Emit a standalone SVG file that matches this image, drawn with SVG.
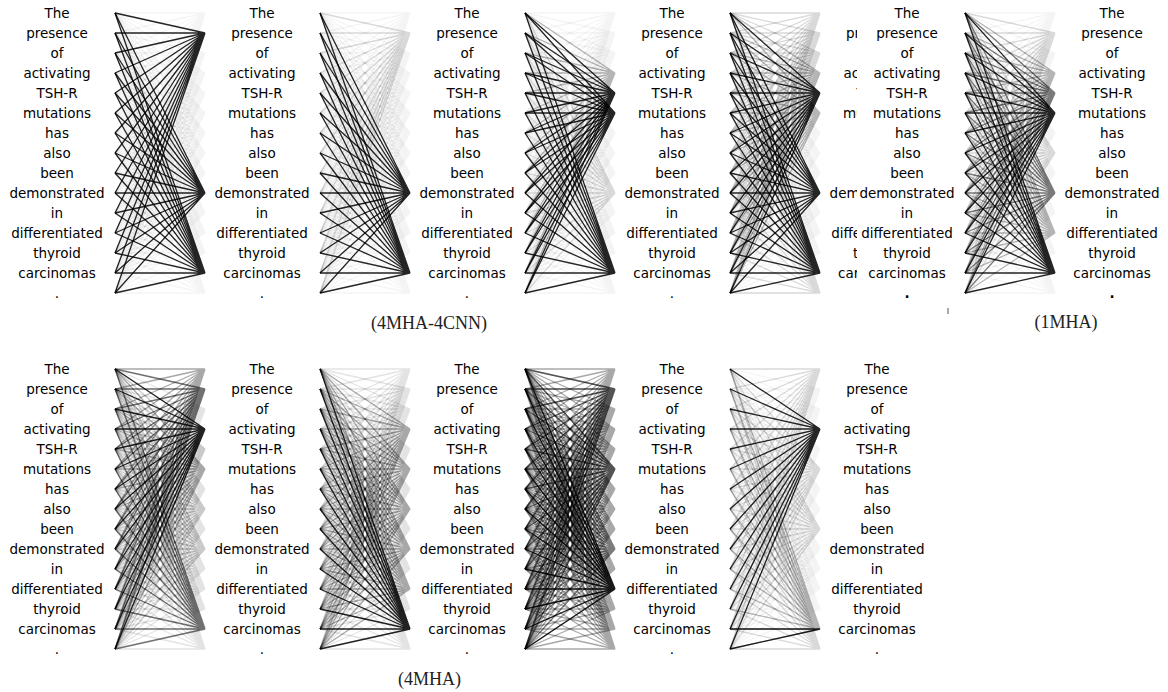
<svg xmlns="http://www.w3.org/2000/svg" xmlns:xlink="http://www.w3.org/1999/xlink" width="1168" height="692" viewBox="0 0 1168 692">
<style>
.w{font-family:"DejaVu Sans",sans-serif;font-size:13.5px;text-anchor:middle;fill:#000}
.wp{font-family:"DejaVu Sans",sans-serif;font-size:13.5px;text-anchor:start;fill:#000}
.cap{font-family:"Liberation Serif","Times New Roman",serif;font-size:18px;text-anchor:middle;fill:#222}
#connectors{stroke:#000;stroke-width:1.3;fill:none}
path{vector-effect:non-scaling-stroke;fill:none}
.k1{stroke-opacity:.85}
.k2{stroke-opacity:.5}
.k3{stroke-opacity:.26}
.k4{stroke-opacity:.11}
.k5{stroke-opacity:.045}
.k6{stroke-opacity:.34}
</style>
<defs>
<path id="f" vector-effect="non-scaling-stroke" d="M0 0L1 0M0 1L1 0M0 2L1 0M0 3L1 0M0 4L1 0M0 5L1 0M0 6L1 0M0 7L1 0M0 8L1 0M0 9L1 0M0 10L1 0M0 11L1 0M0 12L1 0M0 13L1 0M0 14L1 0"/>
<g id="m">
<use href="#f"/>
<use href="#f" transform="matrix(1 1 0 1 0 0)"/>
<use href="#f" transform="matrix(1 2 0 1 0 0)"/>
<use href="#f" transform="matrix(1 3 0 1 0 0)"/>
<use href="#f" transform="matrix(1 4 0 1 0 0)"/>
<use href="#f" transform="matrix(1 5 0 1 0 0)"/>
<use href="#f" transform="matrix(1 6 0 1 0 0)"/>
<use href="#f" transform="matrix(1 7 0 1 0 0)"/>
<use href="#f" transform="matrix(1 8 0 1 0 0)"/>
<use href="#f" transform="matrix(1 9 0 1 0 0)"/>
<use href="#f" transform="matrix(1 10 0 1 0 0)"/>
<use href="#f" transform="matrix(1 11 0 1 0 0)"/>
<use href="#f" transform="matrix(1 12 0 1 0 0)"/>
<use href="#f" transform="matrix(1 13 0 1 0 0)"/>
<use href="#f" transform="matrix(1 14 0 1 0 0)"/>
</g>
<clipPath id="cl"><rect x="800" y="0" width="57" height="320"/></clipPath>
</defs>
<rect width="1168" height="692" fill="#fff"/>

<g id="connectors">
<!-- top row: 4MHA-4CNN -->
<g id="top-p1" transform="translate(115 13) scale(90 20)">
<use href="#m" class="k5"/>
<use href="#f" class="k1" transform="matrix(1 1 0 1 0 0)"/>
<use href="#f" class="k1" transform="matrix(1 9 0 1 0 0)"/>
<use href="#f" class="k1" transform="matrix(1 13 0 1 0 0)"/>
</g>
<g id="top-p2" transform="translate(320 13) scale(90 20)">
<use href="#m" class="k5"/>
<use href="#f" class="k4" transform="matrix(1 1 0 1 0 0)"/>
<use href="#f" class="k1" transform="matrix(1 9 0 1 0 0)"/>
<use href="#f" class="k1" transform="matrix(1 13 0 1 0 0)"/>
</g>
<g id="top-p3" transform="translate(525 13) scale(90 20)">
<use href="#m" class="k5"/>
<use href="#f" class="k3" transform="matrix(1 3 0 1 0 0)"/>
<use href="#f" class="k1" transform="matrix(1 4 0 1 0 0)"/>
<use href="#f" class="k1" transform="matrix(1 5 0 1 0 0)"/>
<use href="#f" class="k4" transform="matrix(1 9 0 1 0 0)"/>
<use href="#f" class="k1" transform="matrix(1 13 0 1 0 0)"/>
</g>
<g id="top-p4" transform="translate(730 13) scale(90 20)">
<use href="#m" class="k5"/>
<use href="#f" class="k4"/>
<use href="#f" class="k4" transform="matrix(1 1 0 1 0 0)"/>
<use href="#f" class="k4" transform="matrix(1 2 0 1 0 0)"/>
<use href="#f" class="k3" transform="matrix(1 3 0 1 0 0)"/>
<use href="#f" class="k1" transform="matrix(1 4 0 1 0 0)"/>
<use href="#f" class="k3" transform="matrix(1 5 0 1 0 0)"/>
<use href="#f" class="k1" transform="matrix(1 9 0 1 0 0)"/>
<use href="#f" class="k1" transform="matrix(1 13 0 1 0 0)"/>
<use href="#f" class="k4" transform="matrix(1 14 0 1 0 0)"/>
</g>
<!-- top row: 1MHA -->
<g id="top-p5" transform="translate(965 13) scale(90 20)">
<use href="#m" class="k5"/>
<use href="#f" class="k4" transform="matrix(1 1 0 1 0 0)"/>
<use href="#f" class="k3" transform="matrix(1 3 0 1 0 0)"/>
<use href="#f" class="k2" transform="matrix(1 4 0 1 0 0)"/>
<use href="#f" class="k1" transform="matrix(1 5 0 1 0 0)"/>
<use href="#f" class="k4" transform="matrix(1 7 0 1 0 0)"/>
<use href="#f" class="k2" transform="matrix(1 9 0 1 0 0)"/>
<use href="#f" class="k3" transform="matrix(1 11 0 1 0 0)"/>
<use href="#f" class="k1" transform="matrix(1 13 0 1 0 0)"/>
</g>
<!-- bottom row: 4MHA -->
<g id="bot-p1" transform="translate(115 369) scale(90 20)">
<use href="#m" class="k4"/>
<use href="#f" class="k3"/>
<use href="#f" class="k2" transform="matrix(1 1 0 1 0 0)"/>
<use href="#f" class="k1" transform="matrix(1 3 0 1 0 0)"/>
<use href="#f" class="k4" transform="matrix(1 4 0 1 0 0)"/>
<use href="#f" class="k3" transform="matrix(1 5 0 1 0 0)"/>
<use href="#f" class="k4" transform="matrix(1 7 0 1 0 0)"/>
<use href="#f" class="k4" transform="matrix(1 9 0 1 0 0)"/>
<use href="#f" class="k2" transform="matrix(1 13 0 1 0 0)"/>
</g>
<g id="bot-p2" transform="translate(320 369) scale(90 20)">
<use href="#m" class="k4"/>
<use href="#f" class="k3" transform="matrix(1 3 0 1 0 0)"/>
<use href="#f" class="k3" transform="matrix(1 5 0 1 0 0)"/>
<use href="#f" class="k3" transform="matrix(1 7 0 1 0 0)"/>
<use href="#f" class="k3" transform="matrix(1 9 0 1 0 0)"/>
<use href="#f" class="k3" transform="matrix(1 11 0 1 0 0)"/>
<use href="#f" class="k1" transform="matrix(1 13 0 1 0 0)"/>
</g>
<g id="bot-p3" transform="translate(525 369) scale(90 20)">
<use href="#m" class="k6"/>
<use href="#f" class="k2" transform="matrix(1 1 0 1 0 0)"/>
<use href="#f" class="k2" transform="matrix(1 5 0 1 0 0)"/>
<use href="#f" class="k3" transform="matrix(1 9 0 1 0 0)"/>
<use href="#f" class="k1" transform="matrix(1 11 0 1 0 0)"/>
</g>
<g id="bot-p4" transform="translate(730 369) scale(90 20)">
<use href="#m" class="k5"/>
<use href="#f" class="k4"/>
<use href="#f" class="k1" transform="matrix(1 3 0 1 0 0)"/>
<use href="#f" class="k4" transform="matrix(1 5 0 1 0 0)"/>
<use href="#f" class="k4" transform="matrix(1 8 0 1 0 0)"/>
<use href="#f" class="k3" transform="matrix(1 13 0 1 0 0)"/>
<path class="k1" d="M0 13L1 13M0 14L1 13"/>
<use href="#f" class="k4" transform="matrix(1 14 0 1 0 0)"/>
</g>
</g>

<!-- word columns, top row -->
<g id="top-col1" class="w" transform="translate(57 13)">
<text y="4.5">The</text><text y="24.5">presence</text><text y="44.5">of</text><text y="64.5">activating</text><text y="84.5">TSH-R</text><text y="104.5">mutations</text><text y="124.5">has</text><text y="144.5">also</text><text y="164.5">been</text><text y="184.5">demonstrated</text><text y="204.5">in</text><text y="224.5">differentiated</text><text y="244.5">thyroid</text><text y="264.5">carcinomas</text><text y="284.5">.</text>
</g>
<g id="top-col2" class="w" transform="translate(262 13)">
<text y="4.5">The</text><text y="24.5">presence</text><text y="44.5">of</text><text y="64.5">activating</text><text y="84.5">TSH-R</text><text y="104.5">mutations</text><text y="124.5">has</text><text y="144.5">also</text><text y="164.5">been</text><text y="184.5">demonstrated</text><text y="204.5">in</text><text y="224.5">differentiated</text><text y="244.5">thyroid</text><text y="264.5">carcinomas</text><text y="284.5">.</text>
</g>
<g id="top-col3" class="w" transform="translate(467 13)">
<text y="4.5">The</text><text y="24.5">presence</text><text y="44.5">of</text><text y="64.5">activating</text><text y="84.5">TSH-R</text><text y="104.5">mutations</text><text y="124.5">has</text><text y="144.5">also</text><text y="164.5">been</text><text y="184.5">demonstrated</text><text y="204.5">in</text><text y="224.5">differentiated</text><text y="244.5">thyroid</text><text y="264.5">carcinomas</text><text y="284.5">.</text>
</g>
<g id="top-col4" class="w" transform="translate(672 13)">
<text y="4.5">The</text><text y="24.5">presence</text><text y="44.5">of</text><text y="64.5">activating</text><text y="84.5">TSH-R</text><text y="104.5">mutations</text><text y="124.5">has</text><text y="144.5">also</text><text y="164.5">been</text><text y="184.5">demonstrated</text><text y="204.5">in</text><text y="224.5">differentiated</text><text y="244.5">thyroid</text><text y="264.5">carcinomas</text><text y="284.5">.</text>
</g>
<!-- partially hidden column (clipped by the 1MHA picture) -->
<g id="top-col5" class="wp" clip-path="url(#cl)">
<text x="846" y="37.5">pr</text><text x="843.4" y="77.5">ac</text><text x="856.4" y="97.5">T</text><text x="842.9" y="117.5">mu</text><text x="829.6" y="197.5">dem</text><text x="831.2" y="237.5">diffe</text><text x="853" y="257.5">t</text><text x="838.1" y="277.5">car</text>
</g>
<g id="top-col6" class="w" transform="translate(907 13)">
<text y="4.5">The</text><text y="24.5">presence</text><text y="44.5">of</text><text y="64.5">activating</text><text y="84.5">TSH-R</text><text y="104.5">mutations</text><text y="124.5">has</text><text y="144.5">also</text><text y="164.5">been</text><text y="184.5">demonstrated</text><text y="204.5">in</text><text y="224.5">differentiated</text><text y="244.5">thyroid</text><text y="264.5">carcinomas</text><text y="284.5" font-weight="bold">.</text>
</g>
<g id="top-col7" class="w" transform="translate(1112 13)">
<text y="4.5">The</text><text y="24.5">presence</text><text y="44.5">of</text><text y="64.5">activating</text><text y="84.5">TSH-R</text><text y="104.5">mutations</text><text y="124.5">has</text><text y="144.5">also</text><text y="164.5">been</text><text y="184.5">demonstrated</text><text y="204.5">in</text><text y="224.5">differentiated</text><text y="244.5">thyroid</text><text y="264.5">carcinomas</text><text y="284.5" font-weight="bold">.</text>
</g>

<!-- word columns, bottom row -->
<g id="bot-col1" class="w" transform="translate(57 369)">
<text y="4.5">The</text><text y="24.5">presence</text><text y="44.5">of</text><text y="64.5">activating</text><text y="84.5">TSH-R</text><text y="104.5">mutations</text><text y="124.5">has</text><text y="144.5">also</text><text y="164.5">been</text><text y="184.5">demonstrated</text><text y="204.5">in</text><text y="224.5">differentiated</text><text y="244.5">thyroid</text><text y="264.5">carcinomas</text><text y="284.5">.</text>
</g>
<g id="bot-col2" class="w" transform="translate(262 369)">
<text y="4.5">The</text><text y="24.5">presence</text><text y="44.5">of</text><text y="64.5">activating</text><text y="84.5">TSH-R</text><text y="104.5">mutations</text><text y="124.5">has</text><text y="144.5">also</text><text y="164.5">been</text><text y="184.5">demonstrated</text><text y="204.5">in</text><text y="224.5">differentiated</text><text y="244.5">thyroid</text><text y="264.5">carcinomas</text><text y="284.5">.</text>
</g>
<g id="bot-col3" class="w" transform="translate(467 369)">
<text y="4.5">The</text><text y="24.5">presence</text><text y="44.5">of</text><text y="64.5">activating</text><text y="84.5">TSH-R</text><text y="104.5">mutations</text><text y="124.5">has</text><text y="144.5">also</text><text y="164.5">been</text><text y="184.5">demonstrated</text><text y="204.5">in</text><text y="224.5">differentiated</text><text y="244.5">thyroid</text><text y="264.5">carcinomas</text><text y="284.5">.</text>
</g>
<g id="bot-col4" class="w" transform="translate(672 369)">
<text y="4.5">The</text><text y="24.5">presence</text><text y="44.5">of</text><text y="64.5">activating</text><text y="84.5">TSH-R</text><text y="104.5">mutations</text><text y="124.5">has</text><text y="144.5">also</text><text y="164.5">been</text><text y="184.5">demonstrated</text><text y="204.5">in</text><text y="224.5">differentiated</text><text y="244.5">thyroid</text><text y="264.5">carcinomas</text><text y="284.5">.</text>
</g>
<g id="bot-col5" class="w" transform="translate(877 369)">
<text y="4.5">The</text><text y="24.5">presence</text><text y="44.5">of</text><text y="64.5">activating</text><text y="84.5">TSH-R</text><text y="104.5">mutations</text><text y="124.5">has</text><text y="144.5">also</text><text y="164.5">been</text><text y="184.5">demonstrated</text><text y="204.5">in</text><text y="224.5">differentiated</text><text y="244.5">thyroid</text><text y="264.5">carcinomas</text><text y="284.5">.</text>
</g>

<line x1="948" y1="308" x2="948" y2="314" stroke="#555" stroke-width="1"/>

<g id="captions" class="cap">
<text x="429" y="328.5">(4MHA-4CNN)</text>
<text x="1066" y="327.5">(1MHA)</text>
<text x="429.5" y="685">(4MHA)</text>
</g>
</svg>
